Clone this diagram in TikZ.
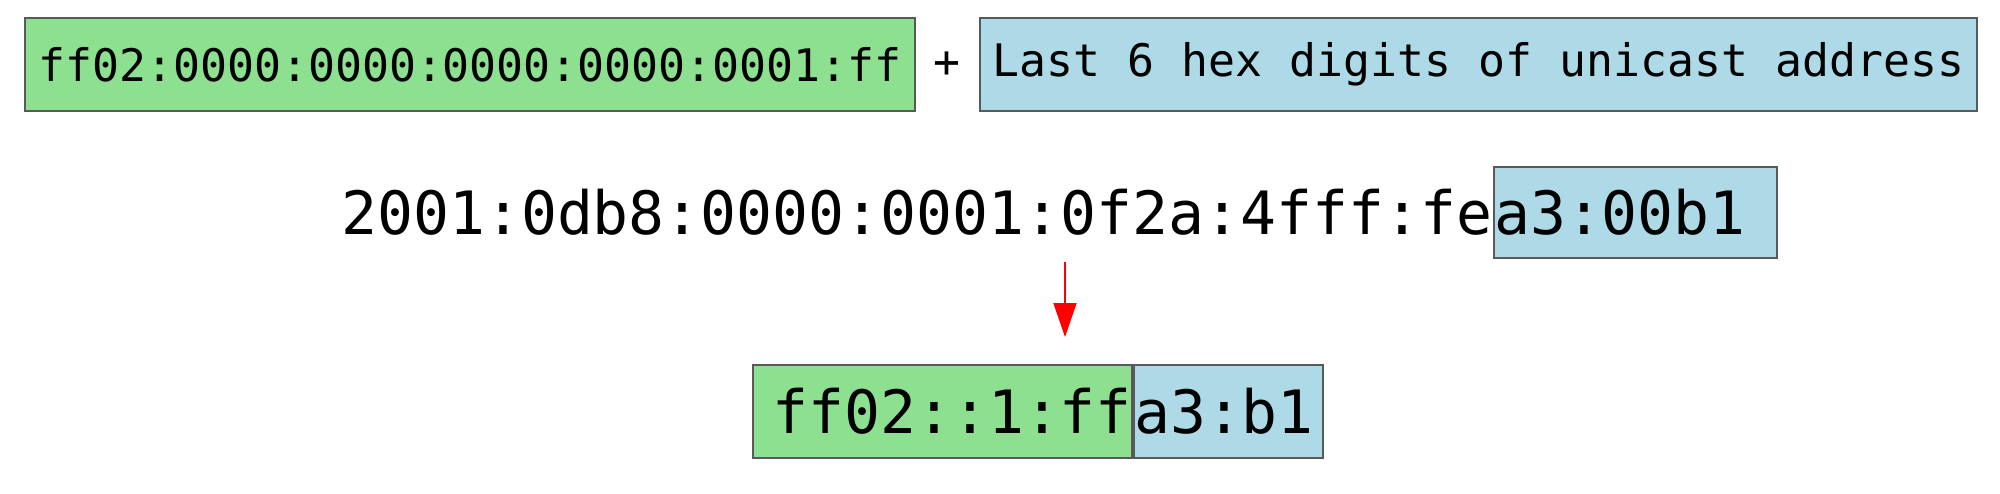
\documentclass[tikz,border=0pt]{standalone}
\usepackage{fontspec}
\setmonofont{DejaVu Sans Mono}
\usetikzlibrary{arrows.meta}
\definecolor{hexgreen}{RGB}{141,224,143}
\definecolor{hexblue}{RGB}{173,218,230}

\begin{document}
\begin{tikzpicture}[
  small/.style={font=\ttfamily\fontsize{12.75}{15}\selectfont},
  big/.style={font=\ttfamily\fontsize{17}{20}\selectfont},
  box/.style={draw=black!65, line width=0.6pt, minimum height=0.93cm, inner sep=0pt}
]
\useasboundingbox (0,0) rectangle (20,4.93);
\draw 
(4.70, 4.285) node[box, small, fill=hexgreen, minimum width=8.90cm](pre){ff02:0000:0000:0000:0000:0001:ff}
(9.47, 4.285) node[small](plus){+}
(14.785, 4.285) node[box, small, fill=hexblue, minimum width=9.97cm](last){Last 6 hex digits of unicast address}

(14.93, 2.805) node[big, inner sep=0pt, anchor=east](addr){2001:0db8:0000:0001:0f2a:4fff:fe}
(14.93, 2.805) node[box, big, fill=hexblue, anchor=west, minimum height=0.91cm, text width=2.83cm, align=left](low){a3:00b1}

(11.33, 0.815) node[box, big, fill=hexgreen, anchor=east, text width=3.79cm, align=right](grp){ff02::1:ff}
(11.33, 0.815) node[box, big, fill=hexblue, anchor=west, text width=1.89cm, align=left](tail){a3:b1};

\coordinate (s) at (10.65, 2.31);
\coordinate (t) at (10.65, 1.56);
\draw[-{Triangle[length=0.34cm, width=0.23cm]}, red, line width=0.5pt] (s) -- (t); 
\end{tikzpicture}
\end{document}
